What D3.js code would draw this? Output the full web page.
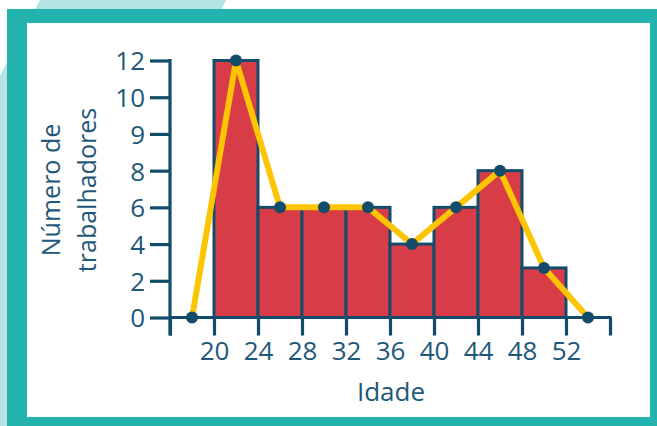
<!DOCTYPE html>
<html>
<head>
<meta charset="utf-8">
<script src="https://cdn.jsdelivr.net/npm/d3@7"></script>
<style>
  html, body { margin: 0; padding: 0; background: #ffffff; }
  svg { display: block; }
  text { font-family: "Open Sans", "Noto Sans", sans-serif; }
</style>
</head>
<body>
<svg id="chart" width="657" height="426"></svg>
<script>
// Age classes (lower bound of each 4-year interval) and worker counts
const classStarts = [20, 24, 28, 32, 36, 40, 44, 48];
const classWidth = 4;
const counts = [12, 6, 6, 6, 4, 6, 8, 2.7];

// Frequency polygon: class midpoints plus an empty class on each side
const polyAges = [18, 22, 26, 30, 34, 38, 42, 46, 50, 54];
const polyCounts = [0, 12, 6, 6, 6, 4, 6, 8, 2.7, 0];

// Axis ticks
const xTickValues = [16, 20, 24, 28, 32, 36, 40, 44, 48, 52, 56];
const xTickLabels = ["", "20", "24", "28", "32", "36", "40", "44", "48", "52", ""];
const yTickValues = [0, 2, 4, 6, 8, 9, 10, 12];

const navy = "#134c6b";
const textColor = "#1d5878";
const teal = "#22b3ae";
const lightTeal = "#b4e4e2";
const barFill = "#d83c47";
const lineColor = "#fdc401";

const svg = d3.select("#chart");

// Decorative background band and frame
svg.append("polygon")
  .attr("points", "40,0 226,0 0,440 0,76")
  .attr("fill", lightTeal);
svg.append("rect")
  .attr("x", 7).attr("y", 9).attr("width", 650).attr("height", 417)
  .attr("fill", teal);
svg.append("rect")
  .attr("x", 27).attr("y", 23).attr("width", 623).attr("height", 394)
  .attr("fill", "#ffffff");

// Scales: x is linear in age; y places the listed ticks at equal spacing
const x = d3.scaleLinear().domain([16, 56]).range([170, 610]);
const yTop = 60.5, yBase = 317.5;
const step = (yBase - yTop) / (yTickValues.length - 1);
const y = d3.scaleLinear()
  .domain(yTickValues)
  .range(yTickValues.map((d, i) => yBase - i * step));

// Histogram bars
svg.append("g").selectAll("rect")
  .data(classStarts)
  .join("rect")
  .attr("x", d => x(d))
  .attr("y", (d, i) => y(counts[i]))
  .attr("width", d => x(d + classWidth) - x(d))
  .attr("height", (d, i) => y(0) - y(counts[i]))
  .attr("fill", barFill)
  .attr("stroke", navy)
  .attr("stroke-width", 3);

// Y axis
const yAxis = d3.axisLeft(y)
  .tickValues(yTickValues)
  .tickFormat(d3.format("d"))
  .tickSize(20)
  .tickPadding(5);
const gy = svg.append("g")
  .attr("transform", `translate(${x(16)},0)`)
  .call(yAxis);
gy.select(".domain").remove();
gy.append("line")
  .attr("x1", 0).attr("x2", 0)
  .attr("y1", y(12) - 1.5).attr("y2", yBase + 18)
  .attr("stroke", navy).attr("stroke-width", 3.2);
gy.selectAll(".tick line").attr("stroke", navy).attr("stroke-width", 3.2);
gy.selectAll(".tick text")
  .attr("fill", textColor)
  .style("font-size", "26px")
  .attr("dy", "0.36em");

// X axis
const xAxis = d3.axisBottom(x)
  .tickValues(xTickValues)
  .tickFormat((d, i) => xTickLabels[i])
  .tickSize(18)
  .tickPadding(6);
const gx = svg.append("g")
  .attr("transform", `translate(0,${yBase})`)
  .call(xAxis);
gx.select(".domain").remove();
gx.append("line")
  .attr("x1", x(16)).attr("x2", x(56) + 1.5)
  .attr("y1", 0).attr("y2", 0)
  .attr("stroke", navy).attr("stroke-width", 3.2);
gx.selectAll(".tick line").attr("stroke", navy).attr("stroke-width", 3.2);
gx.selectAll(".tick text")
  .attr("fill", textColor)
  .style("font-size", "26px");

// Frequency polygon
const line = d3.line()
  .x((d, i) => x(polyAges[i]))
  .y(d => y(d));
svg.append("path")
  .datum(polyCounts)
  .attr("d", line)
  .attr("fill", "none")
  .attr("stroke", lineColor)
  .attr("stroke-width", 6)
  .attr("stroke-linejoin", "round");
svg.append("g").selectAll("circle")
  .data(polyCounts)
  .join("circle")
  .attr("cx", (d, i) => x(polyAges[i]))
  .attr("cy", d => y(d))
  .attr("r", 6)
  .attr("fill", navy);

// Axis titles
svg.append("text")
  .attr("x", 391).attr("y", 401)
  .attr("text-anchor", "middle")
  .attr("fill", textColor)
  .style("font-size", "26px")
  .text("Idade");

const yTitle = svg.append("text")
  .attr("transform", "translate(60,190) rotate(-90)")
  .attr("text-anchor", "middle")
  .attr("fill", textColor)
  .style("font-size", "25px");
yTitle.append("tspan").attr("x", 0).attr("y", 0).text("Número de");
yTitle.append("tspan").attr("x", 0).attr("y", 36).text("trabalhadores");
</script>
</body>
</html>
